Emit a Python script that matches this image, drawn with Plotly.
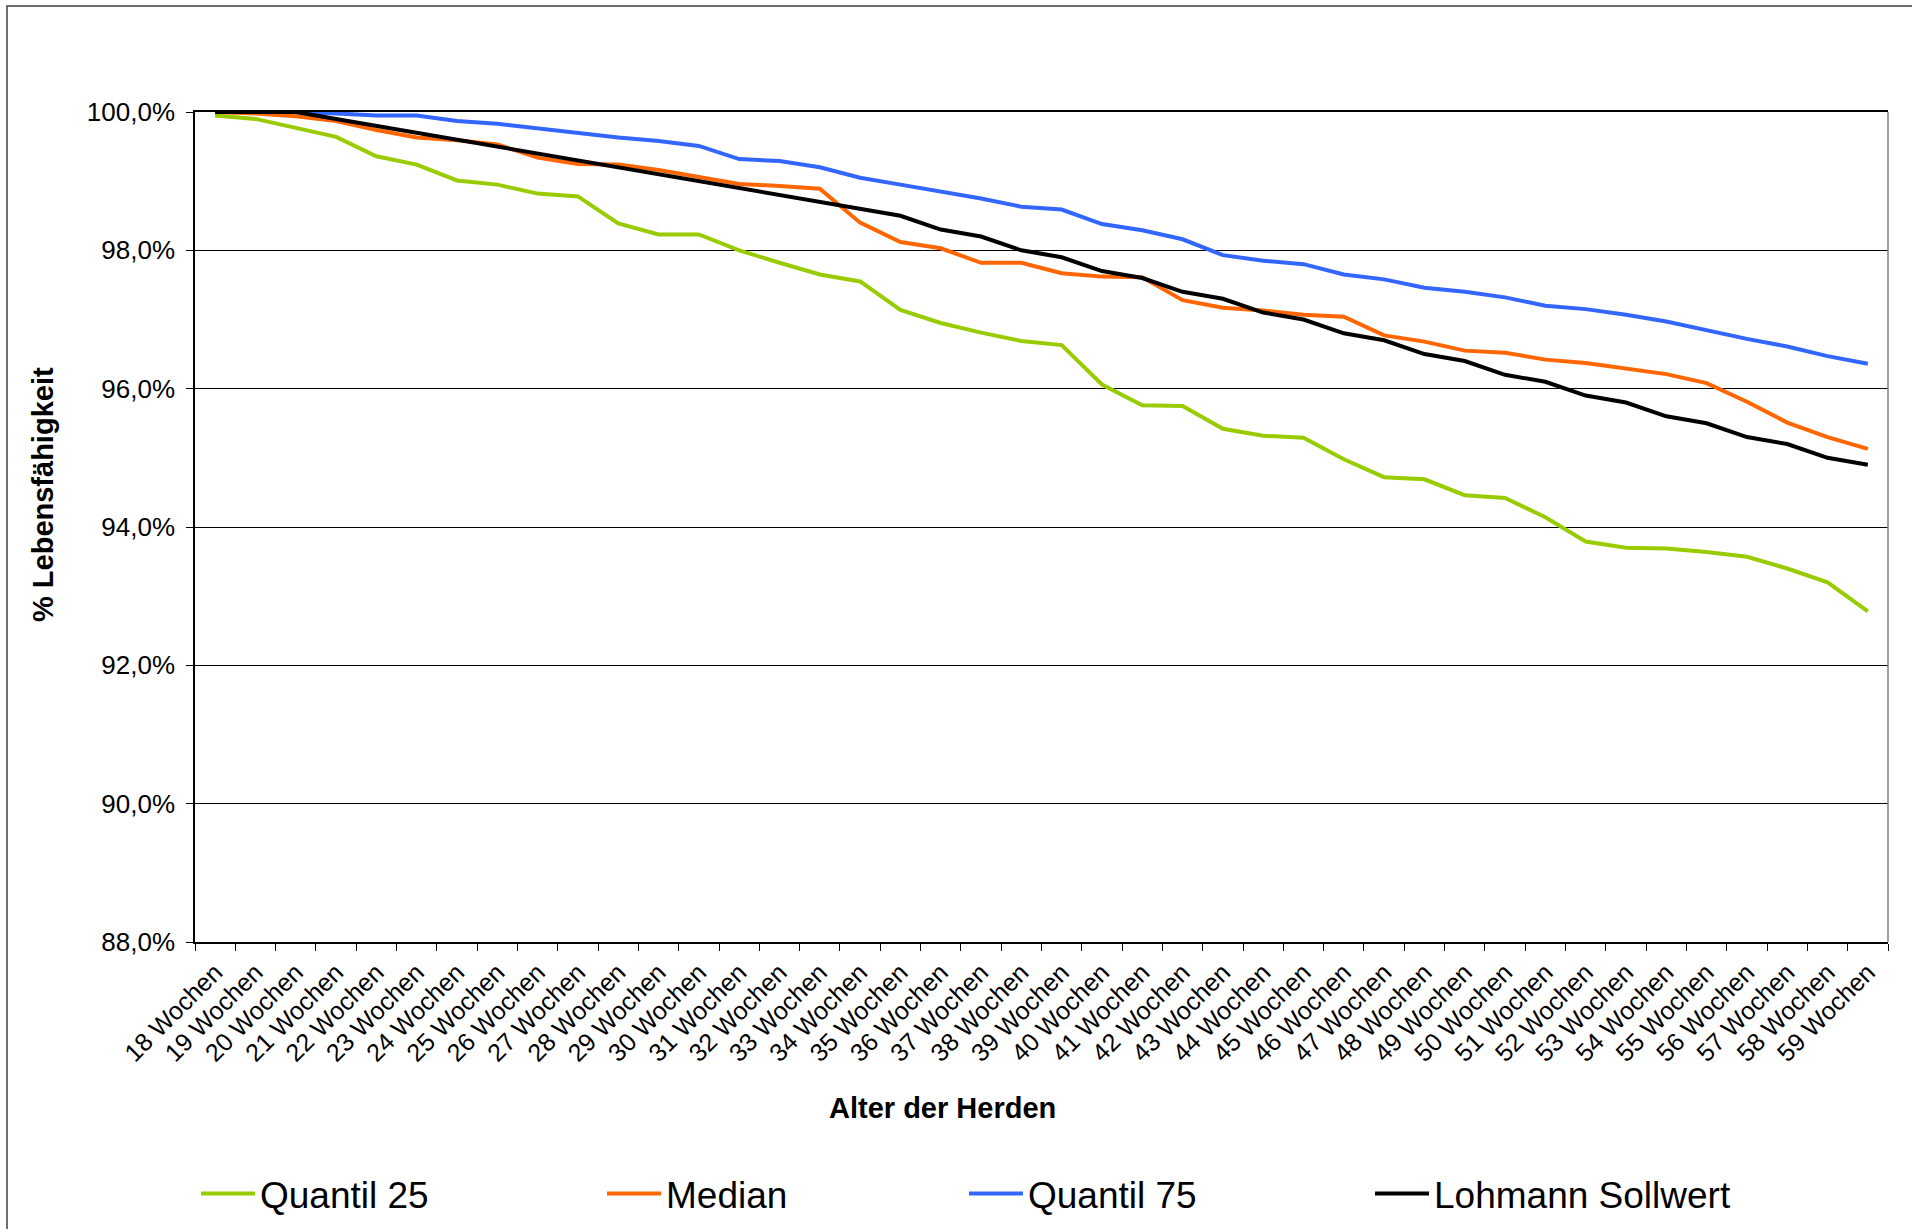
import plotly.graph_objects as go

# Alter der Herden (Kategorien der x-Achse)
wochen = [
    "18 Wochen", "19 Wochen", "20 Wochen", "21 Wochen", "22 Wochen", "23 Wochen",
    "24 Wochen", "25 Wochen", "26 Wochen", "27 Wochen", "28 Wochen", "29 Wochen",
    "30 Wochen", "31 Wochen", "32 Wochen", "33 Wochen", "34 Wochen", "35 Wochen",
    "36 Wochen", "37 Wochen", "38 Wochen", "39 Wochen", "40 Wochen", "41 Wochen",
    "42 Wochen", "43 Wochen", "44 Wochen", "45 Wochen", "46 Wochen", "47 Wochen",
    "48 Wochen", "49 Wochen", "50 Wochen", "51 Wochen", "52 Wochen", "53 Wochen",
    "54 Wochen", "55 Wochen", "56 Wochen", "57 Wochen", "58 Wochen", "59 Wochen",
]

# Lebensfähigkeit in %
quantil_25 = [
    99.95, 99.90, 99.77, 99.64, 99.36, 99.24, 99.01, 98.95, 98.82, 98.78,
    98.39, 98.23, 98.23, 98.00, 97.82, 97.65, 97.55, 97.14, 96.95, 96.81,
    96.69, 96.63, 96.06, 95.76, 95.75, 95.42, 95.32, 95.29, 94.98, 94.72,
    94.69, 94.46, 94.42, 94.14, 93.79, 93.70, 93.69, 93.64, 93.57, 93.40,
    93.20, 92.78,
]
median = [
    100.00, 99.98, 99.94, 99.87, 99.74, 99.63, 99.59, 99.53, 99.34, 99.25,
    99.24, 99.16, 99.06, 98.96, 98.93, 98.89, 98.40, 98.12, 98.03, 97.82,
    97.82, 97.67, 97.62, 97.61, 97.28, 97.17, 97.13, 97.07, 97.04, 96.77,
    96.68, 96.55, 96.52, 96.42, 96.37, 96.29, 96.21, 96.08, 95.81, 95.51,
    95.30, 95.13,
]
quantil_75 = [
    100.00, 100.00, 100.00, 99.98, 99.95, 99.95, 99.87, 99.83, 99.76, 99.70,
    99.63, 99.58, 99.51, 99.32, 99.29, 99.20, 99.05, 98.95, 98.85, 98.75,
    98.63, 98.59, 98.38, 98.29, 98.16, 97.93, 97.85, 97.80, 97.65, 97.58,
    97.46, 97.40, 97.32, 97.20, 97.15, 97.07, 96.97, 96.84, 96.72, 96.61,
    96.47, 96.36,
]
lohmann_sollwert = [
    100.0, 100.0, 100.0, 99.9, 99.8, 99.7, 99.6, 99.5, 99.4, 99.3,
    99.2, 99.1, 99.0, 98.9, 98.8, 98.7, 98.6, 98.5, 98.3, 98.2,
    98.0, 97.9, 97.7, 97.6, 97.4, 97.3, 97.1, 97.0, 96.8, 96.7,
    96.5, 96.4, 96.2, 96.1, 95.9, 95.8, 95.6, 95.5, 95.3, 95.2,
    95.0, 94.9,
]

y_ticks = [88, 90, 92, 94, 96, 98, 100]
y_tick_labels = ["88,0%", "90,0%", "92,0%", "94,0%", "96,0%", "98,0%", "100,0%"]

W, H = 1912, 1229
ML, MR, MT, MB = 195, 24, 112, 287
PW, PH = W - ML - MR, H - MT - MB
FONT = "Liberation Sans, Arial, sans-serif"


def px_x(px):
    return (px - ML) / PW


def px_y(py):
    return (H - MB - py) / PH


series = [
    ("Quantil 25", quantil_25, "#99CC00", "legend", 196),
    ("Median", median, "#FF6600", "legend2", 602),
    ("Quantil 75", quantil_75, "#3366FF", "legend3", 964),
    ("Lohmann Sollwert", lohmann_sollwert, "#000000", "legend4", 1370),
]

fig = go.Figure()
for name, values, color, leg, _ in series:
    fig.add_trace(go.Scatter(
        x=wochen, y=values, mode="lines", name=name, legend=leg,
        line=dict(color=color, width=4),
    ))

legend_common = dict(
    orientation="h", yanchor="middle", xanchor="left",
    font=dict(family=FONT, size=37, color="#000000"),
    bgcolor="rgba(0,0,0,0)", borderwidth=0, itemwidth=54,
)
layout_legends = {}
for name, _, _, leg, left in series:
    layout_legends[leg] = dict(legend_common, x=px_x(left), y=px_y(1194))

fig.update_layout(
    width=W, height=H, autosize=False,
    margin=dict(l=ML, r=MR, t=MT, b=MB, pad=0, autoexpand=False),
    paper_bgcolor="#FFFFFF", plot_bgcolor="#FFFFFF",
    font=dict(family=FONT, color="#000000"),
    showlegend=True,
    **layout_legends,
)

fig.update_xaxes(
    type="category", range=[-0.5, len(wochen) - 0.5],
    showgrid=False, showline=True, linecolor="#000000", linewidth=1.5,
    mirror=True, ticks="outside", tickson="boundaries", ticklen=7,
    tickcolor="#000000", tickwidth=1, tickangle=-45,
    tickfont=dict(family=FONT, size=25, color="#000000"),
    ticklabelstandoff=4,
)
fig.update_yaxes(
    range=[88, 100], tickvals=y_ticks, ticktext=y_tick_labels,
    showgrid=True, gridcolor="#000000", gridwidth=1,
    showline=True, linecolor="#000000", linewidth=1.5,
    ticks="outside", ticklen=7, tickcolor="#000000", tickwidth=1,
    tickfont=dict(family=FONT, size=26, color="#000000"),
    ticklabelstandoff=6, zeroline=False,
)

# Achsentitel
fig.add_annotation(
    text="<b>% Lebensfähigkeit</b>", textangle=-90, showarrow=False,
    xref="paper", yref="paper", x=px_x(43), y=px_y(495),
    xanchor="center", yanchor="middle",
    font=dict(family=FONT, size=29, color="#000000"),
)
fig.add_annotation(
    text="<b>Alter der Herden</b>", showarrow=False,
    xref="paper", yref="paper", x=px_x(942), y=px_y(1108),
    xanchor="center", yanchor="middle",
    font=dict(family=FONT, size=29, color="#000000"),
)

# rechter Rand der Zeichenfläche und Rahmen des Diagrammbereichs
fig.add_shape(type="line", xref="paper", yref="paper", x0=1, x1=1, y0=0, y1=1,
              line=dict(color="#808080", width=1.5))
fig.add_shape(type="rect", xref="paper", yref="paper",
              x0=px_x(7), x1=px_x(1918), y0=px_y(6), y1=px_y(1236),
              line=dict(color="#404040", width=1.5), layer="below")

fig.write_html("out.html")
